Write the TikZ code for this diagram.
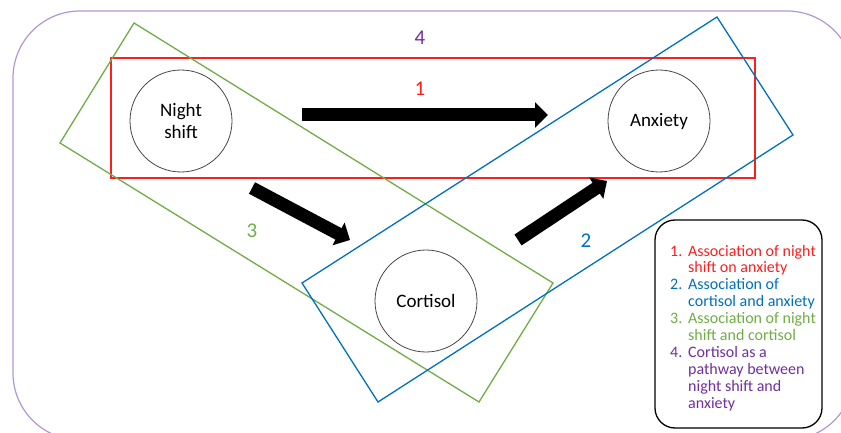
\documentclass[tikz,border=0pt]{standalone}
\usepackage{fontspec}
\setmainfont{Carlito}
\usetikzlibrary{arrows.meta}

\definecolor{nsred}{RGB}{255,30,30}
\definecolor{nsblue}{RGB}{0,112,192}
\definecolor{nsgreen}{RGB}{112,173,71}
\definecolor{nspurple}{RGB}{112,48,160}
\definecolor{nsframe}{RGB}{177,150,214}
\definecolor{nsgray}{RGB}{70,70,70}

\tikzset{
  factor/.style={circle, draw=nsgray, line width=0.8pt, minimum size=102pt,
    inner sep=0pt, align=center, font=\fontsize{19}{22}\selectfont},
  pathlabel/.style={font=\fontsize{21}{24}\selectfont},
  bigarrow/.style={line width=13pt, -{Triangle[length=13pt,width=25pt]}},
  region/.style={line width=1.3pt},
  legendbox/.style={draw=black, line width=1.3pt, rounded corners=20pt},
  legline/.style={anchor=base west, inner sep=0pt, font=\fontsize{16}{17}\selectfont},
}

\begin{document}
\begin{tikzpicture}[x=1pt,y=-1pt]
\useasboundingbox (0,0) rectangle (841,433);
\clip (0,0) rectangle (841,433);

% outer frame (pathway 4)
\draw[nsframe, line width=1.2pt, rounded corners=67pt] (13,11) rectangle (854,440);

% pathway regions
\draw[region, nsred] (111,58) rectangle (755,178);
\draw[region, nsgreen] (134,23) -- (553,283) -- (479,402) -- (60,143) -- cycle;
\draw[region, nsblue] (717,17) -- (793,135) -- (378,402) -- (302,283) -- cycle;

% factors
\node[factor] (night) at (181,121) {Night\\shift};
\node[factor] (anx) at (659,121) {Anxiety};
\node[factor] (cort) at (426,301) {Cortisol};

% arrows between the factors
\coordinate (a1s) at (302,115); \coordinate (a1e) at (548,115);
\coordinate (a2s) at (252,188); \coordinate (a2e) at (350,240);
\coordinate (a3s) at (518,240); \coordinate (a3e) at (607,181);
\draw[bigarrow] (a1s) -- (a1e);
\draw[bigarrow] (a2s) -- (a2e);
\draw[bigarrow] (a3s) -- (a3e);

% pathway numbers
\node[pathlabel, text=nspurple] (l4) at (420,38) {4};
\node[pathlabel, text=nsred] (l1) at (420,89) {1};
\node[pathlabel, text=nsgreen] (l3) at (252,231) {3};
\node[pathlabel, text=nsblue] (l2) at (586,241) {2};

% legend
\draw[legendbox, fill=white] (655,220) rectangle (822,428);
\foreach \k/\col in {1/nsred, 3/nsblue, 5/nsgreen, 7/nspurple}
  \node[legline, text=\col] (num\k) at (670, {256+16.9*(\k-1)})
    {\pgfmathparse{int((\k+1)/2)}\pgfmathresult.};
\foreach \k/\col/\txt in {
  1/nsred/Association of night, 2/nsred/shift on anxiety,
  3/nsblue/Association of, 4/nsblue/cortisol and anxiety,
  5/nsgreen/Association of night, 6/nsgreen/shift and cortisol,
  7/nspurple/Cortisol as a, 8/nspurple/pathway between,
  9/nspurple/night shift and, 10/nspurple/anxiety}
  \node[legline, text=\col] (leg\k) at (688, {256+16.9*(\k-1)}) {\txt};
\end{tikzpicture}
\end{document}
